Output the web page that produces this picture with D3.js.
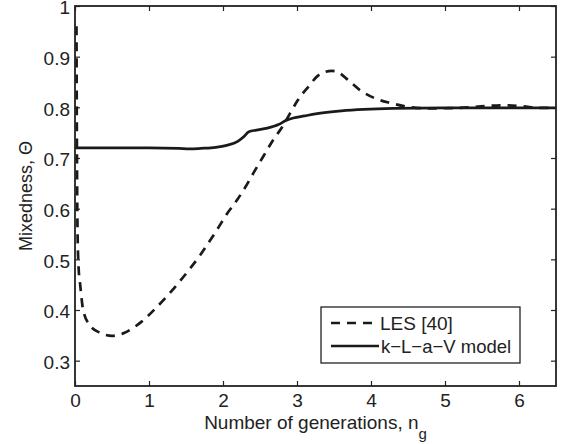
<!DOCTYPE html>
<html>
<head>
<meta charset="utf-8">
<script src="https://cdn.jsdelivr.net/npm/d3@7"></script>
<style>
  html, body { margin: 0; padding: 0; background: #fff; }
  svg { display: block; font-family: "Liberation Sans", Arial, Helvetica, sans-serif; }
</style>
</head>
<body>
<svg id="chart" width="562" height="444"></svg>
<script>
// ---- data ----
const xTicks = [0, 1, 2, 3, 4, 5, 6];
const yTicks = [0.3, 0.4, 0.5, 0.6, 0.7, 0.8, 0.9, 1];
const yTickLabels = ["0.3", "0.4", "0.5", "0.6", "0.7", "0.8", "0.9", "1"];

const lesX = [0.02, 0.025, 0.035, 0.05, 0.07, 0.11, 0.2, 0.34, 0.5, 0.67, 0.8, 0.9, 1.08, 1.26, 1.39, 1.55, 1.69, 1.82, 1.93, 2.05, 2.19, 2.32, 2.41, 2.54, 2.68, 2.8, 2.91, 3.01, 3.15, 3.28, 3.38, 3.47, 3.56, 3.69, 3.85, 4.05, 4.28, 4.5, 4.8, 5.2, 5.6, 5.85, 6.05, 6.3, 6.5];
const lesY = [0.96, 0.75, 0.55, 0.48, 0.45, 0.40, 0.37, 0.355, 0.349, 0.355, 0.366, 0.377, 0.402, 0.43, 0.452, 0.481, 0.508, 0.536, 0.561, 0.589, 0.617, 0.647, 0.67, 0.702, 0.736, 0.761, 0.789, 0.814, 0.84, 0.862, 0.870, 0.872, 0.869, 0.854, 0.834, 0.818, 0.808, 0.801, 0.798, 0.799, 0.803, 0.804, 0.802, 0.799, 0.799];

const klavX = [0, 0.5, 1.0, 1.4, 1.55, 1.7, 1.9, 2.05, 2.2, 2.28, 2.35, 2.45, 2.6, 2.75, 2.85, 2.95, 3.1, 3.25, 3.4, 3.6, 3.9, 4.3, 5.0, 5.5, 6.0, 6.5];
const klavY = [0.72, 0.72, 0.72, 0.719, 0.718, 0.719, 0.721, 0.725, 0.733, 0.742, 0.752, 0.755, 0.759, 0.766, 0.774, 0.779, 0.783, 0.787, 0.790, 0.793, 0.796, 0.798, 0.799, 0.799, 0.799, 0.799];

const legendLabels = ["LES [40]", "k\u2212L\u2212a\u2212V model"];

// ---- layout ----
const margin = { left: 75, top: 6, right: 6, bottom: 58 };
const W = 562, H = 444;
const iw = W - margin.left - margin.right;
const ih = H - margin.top - margin.bottom;
const FS = 19;

const svg = d3.select("#chart");
const g = svg.append("g").attr("transform", `translate(${margin.left},${margin.top})`);

const x = d3.scaleLinear().domain([0, 6.5]).range([0, iw]);
const y = d3.scaleLinear().domain([0.25, 1]).range([ih, 0]);

// axes
const ax = g.append("g").attr("transform", `translate(0,${ih})`)
  .call(d3.axisBottom(x).tickValues(xTicks).tickFormat(d3.format("d")).tickSize(-5).tickSizeOuter(0).tickPadding(8));
const ay = g.append("g")
  .call(d3.axisLeft(y).tickValues(yTicks).tickFormat((d, i) => yTickLabels[i]).tickSize(-5).tickSizeOuter(0).tickPadding(5));
const at = g.append("g")
  .call(d3.axisTop(x).tickValues(xTicks).tickFormat("").tickSize(-5).tickSizeOuter(0));
const ar = g.append("g").attr("transform", `translate(${iw},0)`)
  .call(d3.axisRight(y).tickValues(yTicks).tickFormat("").tickSize(-5).tickSizeOuter(0));

[ax, ay, at, ar].forEach(a => {
  a.selectAll(".domain").remove();
  a.selectAll(".tick line").attr("stroke", "#222").attr("stroke-width", 1.2);
  a.selectAll(".tick text").attr("font-size", FS).attr("fill", "#222")
    .attr("font-family", '"Liberation Sans", Arial, sans-serif');
});
ax.selectAll(".tick text").attr("dy", "0.68em");
ay.selectAll(".tick text").attr("dy", "0.42em");

// lines
const line = d3.line().x(d => x(d[0])).y(d => y(d[1])).curve(d3.curveMonotoneX);
const lesData = lesX.map((v, i) => [v, lesY[i]]);
const klavData = klavX.map((v, i) => [v, klavY[i]]);

g.append("path").datum(lesData).attr("d", line)
  .attr("fill", "none").attr("stroke", "#1a1a1a").attr("stroke-width", 2.7)
  .attr("stroke-dasharray", "9,7");
g.append("path").datum(klavData).attr("d", line)
  .attr("fill", "none").attr("stroke", "#1a1a1a").attr("stroke-width", 2.7);

// frame
g.append("rect").attr("x", 0).attr("y", 0).attr("width", iw).attr("height", ih)
  .attr("fill", "none").attr("stroke", "#222").attr("stroke-width", 1.8);

// legend
const lg = svg.append("g");
lg.append("rect").attr("x", 321).attr("y", 307).attr("width", 199).attr("height", 56)
  .attr("fill", "#fff").attr("stroke", "#222").attr("stroke-width", 1.3);
const legY = [323, 346];
lg.append("line").attr("x1", 331).attr("x2", 372).attr("y1", legY[0]).attr("y2", legY[0])
  .attr("stroke", "#1a1a1a").attr("stroke-width", 2.7).attr("stroke-dasharray", "9,7");
lg.append("line").attr("x1", 331).attr("x2", 379).attr("y1", legY[1]).attr("y2", legY[1])
  .attr("stroke", "#1a1a1a").attr("stroke-width", 2.7);
lg.append("text").attr("x", 380).attr("y", legY[0] + 7).attr("font-size", FS).attr("fill", "#222").text(legendLabels[0]);
lg.append("text").attr("x", 381).attr("y", legY[1] + 7).attr("font-size", 18.5).attr("fill", "#222").text(legendLabels[1]);

// axis titles
const xt = svg.append("text").attr("x", margin.left + iw / 2).attr("y", 428.5)
  .attr("text-anchor", "middle").attr("font-size", FS).attr("fill", "#222");
xt.append("tspan").text("Number of generations, n");
xt.append("tspan").attr("dy", 10).attr("font-size", 15).text("g");

svg.append("text")
  .attr("transform", `translate(32,${margin.top + ih / 2}) rotate(-90)`)
  .attr("text-anchor", "middle").attr("font-size", 18).attr("fill", "#222")
  .text("Mixedness, \u0398");
</script>
</body>
</html>
